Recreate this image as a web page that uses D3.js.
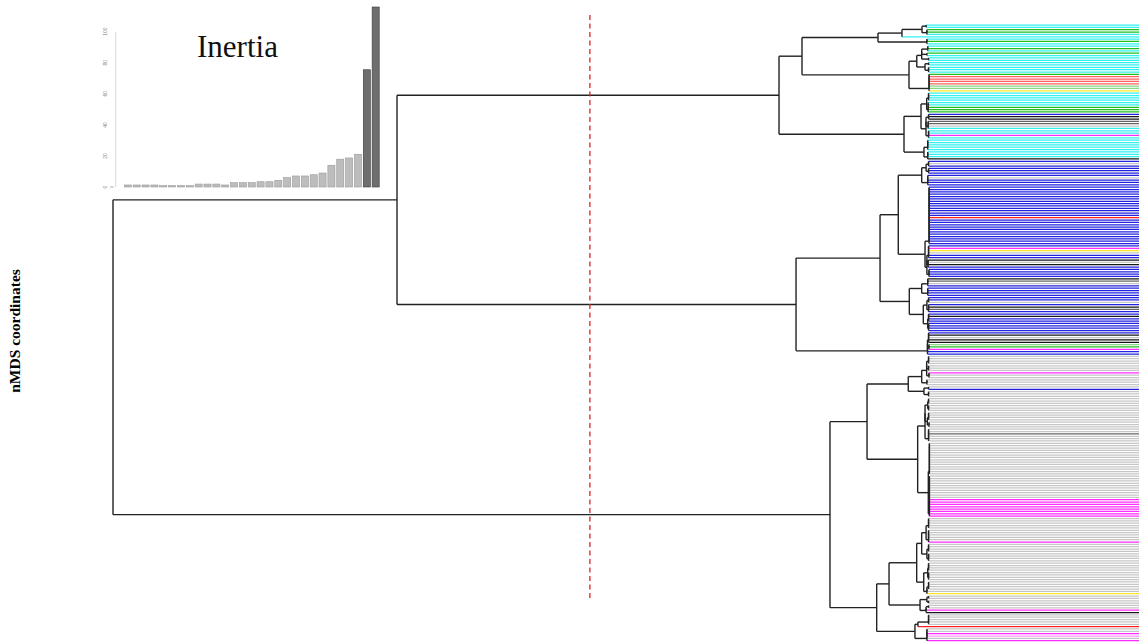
<!DOCTYPE html>
<html><head><meta charset="utf-8">
<script src="https://cdn.jsdelivr.net/npm/d3@7"></script>
<style>html,body{margin:0;padding:0;background:#fff;overflow:hidden}</style>
</head><body><svg id="chart" width="1139" height="644"></svg>
<script>
// ---------------- data ----------------
const chartTitle = "Inertia";
const axisLabel = "nMDS coordinates";
// inset bar chart: inertia of successive merges (ascending)
const inertiaValues = [1.3,1.3,1.3,1.3,0.9,0.9,0.9,0.9,1.9,1.9,1.9,1.3,2.8,2.8,2.8,3.4,3.4,4.3,6.0,7.1,7.1,7.9,9.0,14.0,17.9,18.7,21.1,75.5,115.9];
const inertiaTicks = [0,20,40,60,80,100];
// cut height of the dendrogram (dashed line)
const cutHeight = 41.7;
const maxHeight = 100;
// merge tree: "(height child child ...)" ; a bare integer n = n consecutive leaves
const treeA1 = "(18.58 (15.77 (6.48 (3.55 (1.1 (0.6 2) (0.5 3)) 1) (0.5 3)) (2.69 (1.74 (1.14 (0.4 3) (0.5 2) (0.3 2)) (0.73 (0.3 2) (0.3 3))) (0.24 8))) (3.3 (1.22 (0.53 (0.3 4) (0.35 5)) (0.61 (0.3 3) (0.35 4) (0.3 4))) (0.86 (0.4 5) (0.4 4))))";
const treeA2 = "(16.5 (6.23 (4.0 (1.14 (0.6 (0.3 3) (0.3 3)) (0.4 5)) (0.73 (0.24 25) (0.5 (0.3 6) (0.35 4) (0.25 4)))) (2.65 (1.14 (0.4 4) (0.4 4)) (0.94 (0.5 (0.3 3) (0.3 4)) (0.4 (0.3 4) (0.3 4))))) (0.43 (0.3 5) (0.25 3) 1 1))";
const treeB1 = "(7.82 (2.78 (1.14 (0.53 (0.3 4) (0.3 3) (0.25 3)) (0.5 3)) (0.86 (0.3 2) (0.3 3))) (1.63 (0.73 (0.4 (0.3 3) (0.3 3)) (0.45 (0.3 4) (0.25 3)) (0.3 6)) (0.33 (0.2 14) (0.2 18))))";
const treeB2 = "(6.64 (5.13 (1.75 (1.14 (0.6 (0.3 5) (0.3 6)) (0.5 (0.3 4) (0.3 4))) (0.89 (0.4 (0.3 4) (0.3 4)) (0.5 (0.3 4) 1 1))) (1.34 (0.5 (0.3 2) (0.3 2)) (0.6 (0.3 2) 1 1))) (1.96 (1.6 (0.3 5) 1) (0.5 6)))";
const rootHeight = 100, heightA = 65.28, heightB = 12.35;
// leaf group colours, as runs in leaf order
const leafColorRuns = [
  ["c",2],["g",2],["c",3],["g",1],["c",1],["c",1],["g",1],["c",1],["g",1],["c",3],["c",5],
  ["g",1],["r",4],["l",2],["y",1],["c",6],["g",3],
  ["b",1],["k",2],["d",2],["s",1],["c",3],["m",1],["c",1],["c",8],["k",1],
  ["b",1],["s",1],["b",5],["s",1],["b",3],
  ["b",13],["R",1],["b",11],
  ["b",1],["m",1],["y",1],["s",1],["b",2],["k",1],["s",1],["k",1],["b",5],
  ["k",1],["d",1],["s",1],["b",5],
  ["b",2],["s",1],["b",1],["k",1],["d",1],["b",2],["k",1],["b",6],
  ["b",1],["k",1],["s",1],["k",2],["l",1],["g",1],["m",1],["b",2],
  ["s",7],["m",1],["s",5],["s",1],["b",1],["s",3],["s",15],["d",1],["s",3],["s",24],["m",8],
  ["s",10],["m",1],["s",8],["s",13],["y",1],["s",6],["m",1],["k",1],
  ["s",5],["R",1],["s",2],["m",1],["M",1],["s",1],["m",1]
];
const colorKey = {c:"#30f0f0",g:"#1fbf1f",l:"#86d886",r:"#ff6262",R:"#ff2020",y:"#ffe82a",
  b:"#2222e0",k:"#161616",d:"#666666",s:"#c6c6c6",m:"#ff2cff",M:"#ff98ff"};

// ---------------- build ----------------
function parseTree(str){
  const t = str.replace(/\(/g," ( ").replace(/\)/g," ) ").trim().split(/\s+/);
  let p = 0;
  function node(){
    p++;
    const h = +t[p++];
    const kids = [];
    while (t[p] !== ")"){
      if (t[p] === "(") kids.push(node());
      else { const n = +t[p++]; for (let i=0;i<n;i++) kids.push({leaf:true,h:0}); }
    }
    p++;
    let cur = {h, children:[kids[0], kids[1]]};
    for (let i=2;i<kids.length;i++) cur = {h, children:[cur, kids[i]]};
    return cur;
  }
  return node();
}
const root = parseTree(`(${rootHeight} (${heightA} ${treeA1} ${treeA2}) (${heightB} ${treeB1} ${treeB2}))`);
const leafColors = [];
leafColorRuns.forEach(([c,n]) => { for (let i=0;i<n;i++) leafColors.push(colorKey[c]); });

const leaves = [], internals = [];
(function collect(n){ if (n.leaf){ leaves.push(n); return; } n.children.forEach(c=>{c.parent=n; collect(c);}); })(root);
const nLeaves = leaves.length;

const svg = d3.select("#chart");
const W = 1139;
const x = d3.scaleLinear().domain([0, maxHeight]).range([931, 113]);
const y = d3.scaleLinear().domain([0, nLeaves-1]).range([25, 640.7]);
leaves.forEach((l,i)=>{ l.i=i; l.y=y(i); });
(function pos(n){
  if (n.leaf) return n.y;
  n.children.forEach(pos);
  n.y = (n.children[0].y + n.children[1].y)/2;
  internals.push(n);
  return n.y;
})(root);

// leaf lines
svg.append("g").selectAll("line").data(leaves).join("line")
  .attr("x1", d=>x(d.parent.h)).attr("x2", W)
  .attr("y1", d=>d.y).attr("y2", d=>d.y)
  .attr("stroke", d=>leafColors[d.i] || "#ccc").attr("stroke-width", 1.25);

// tree branches
const tree = svg.append("g").attr("stroke","#222").attr("stroke-width",1.4).attr("fill","none");
tree.selectAll("line.h").data(internals.filter(n=>n.parent && n.parent.h !== n.h)).join("line")
  .attr("x1", d=>x(d.h)).attr("x2", d=>x(d.parent.h))
  .attr("y1", d=>d.y).attr("y2", d=>d.y);
tree.selectAll("line.v").data(internals).join("line")
  .attr("x1", d=>x(d.h)).attr("x2", d=>x(d.h))
  .attr("y1", d=>d.children[0].y).attr("y2", d=>d.children[1].y);

// cut line
svg.append("line").attr("x1", x(cutHeight)).attr("x2", x(cutHeight))
  .attr("y1", 15).attr("y2", 598)
  .attr("stroke","#dd2222").attr("stroke-width",1.3).attr("stroke-dasharray","5,3.5");

// y label
svg.append("text").attr("transform","translate(19.5,331) rotate(-90)")
  .attr("text-anchor","middle").attr("font-family","'Liberation Serif','Times New Roman',serif")
  .attr("font-weight","bold").attr("font-size",15.5).attr("fill","#000").text(axisLabel);

// ---------------- inset ----------------
const inset = svg.append("g");
const bx = d3.scaleBand().domain(d3.range(inertiaValues.length)).range([123.4, 380.1]).paddingInner(0.2).paddingOuter(0.1);
const by = d3.scaleLinear().domain([0, 100]).range([187, 31.7]);
const topTwo = inertiaValues.slice().sort((a,b)=>b-a)[1];
inset.selectAll("rect").data(inertiaValues).join("rect")
  .attr("x", (d,i)=>bx(i)).attr("width", bx.bandwidth())
  .attr("y", d=>by(d)).attr("height", d=>by(0)-by(d))
  .attr("fill", d=> d>=topTwo ? "#6e6e6e" : "#bdbdbd")
  .attr("stroke", d=> d>=topTwo ? "#3a3a3a" : "#9a9a9a").attr("stroke-width",0.6);
inset.append("line").attr("x1",115.7).attr("x2",115.7).attr("y1",by(100)).attr("y2",by(0))
  .attr("stroke","#d8d8d8").attr("stroke-width",1);
inset.selectAll("text.t").data(inertiaTicks).join("text")
  .attr("transform", d=>`translate(107,${by(d)}) rotate(-90)`)
  .attr("text-anchor","middle").attr("font-size",5).attr("font-family","'Liberation Sans',sans-serif")
  .attr("fill","#888").text(d=>d);
inset.append("line").attr("x1",110).attr("x2",113.5).attr("y1",by(0)).attr("y2",by(0)).attr("stroke","#aaa");
inset.append("text").attr("x",197).attr("y",57).attr("font-size",31)
  .attr("font-family","'Liberation Serif','Times New Roman',serif").attr("fill","#111").text(chartTitle);
</script></body></html>
